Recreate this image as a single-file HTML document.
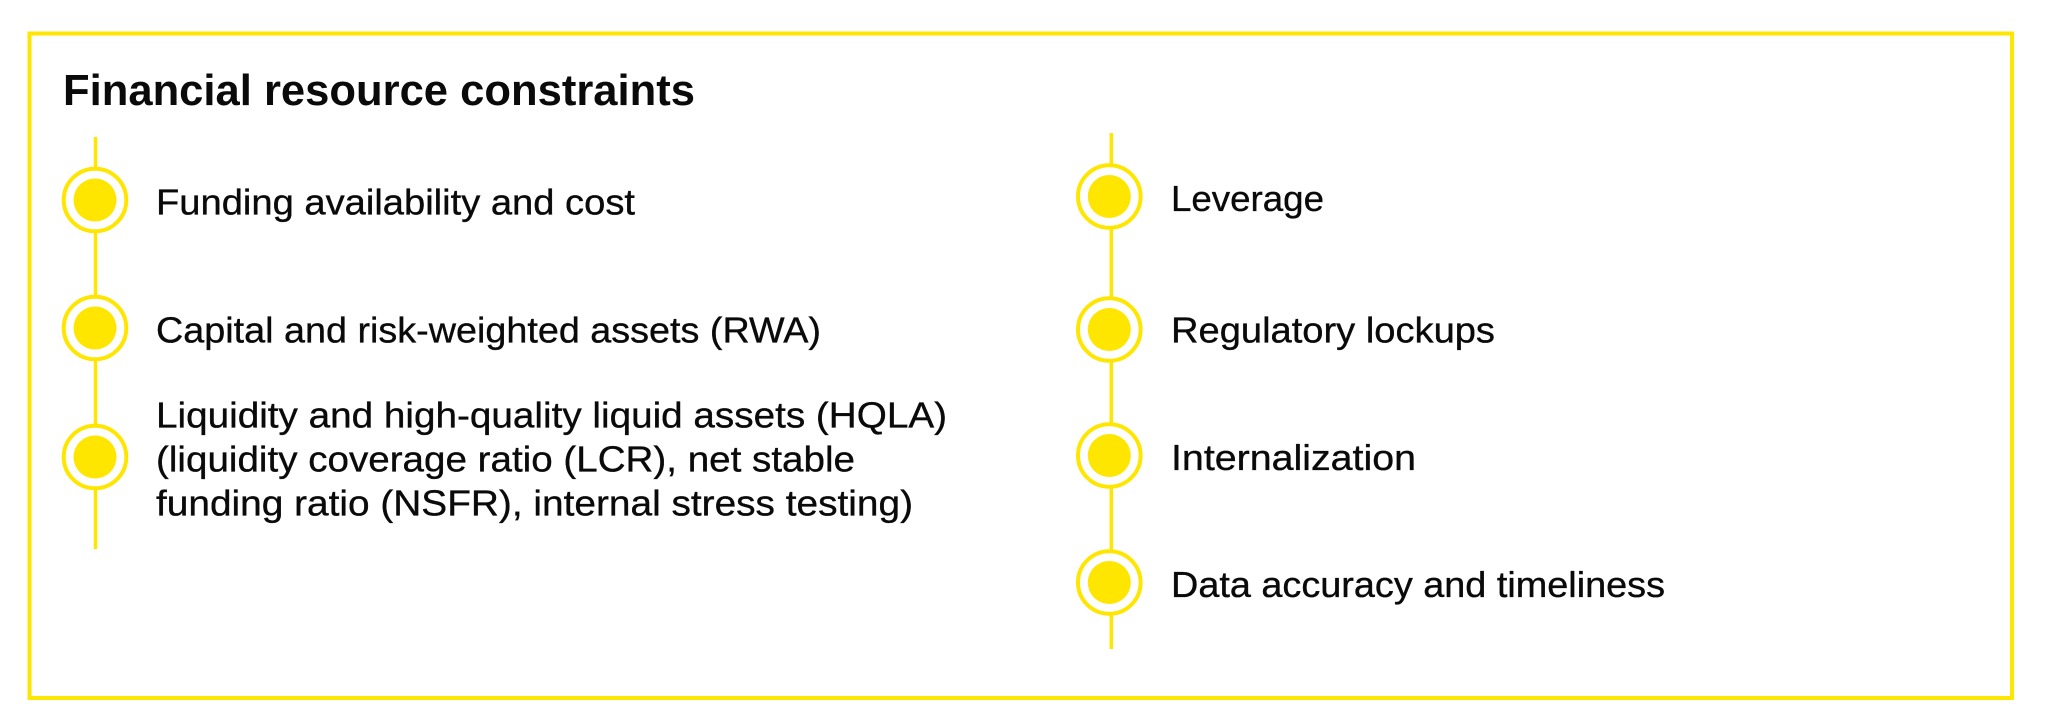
<!DOCTYPE html>
<html>
<head>
<meta charset="utf-8">
<style>
html,body{margin:0;padding:0;background:#fff;width:2048px;height:722px;overflow:hidden}
svg{display:block}
text{font-family:"Liberation Sans",sans-serif;fill:#0a0a0a}
.t{font-size:36px;stroke:#0a0a0a;stroke-width:.35px}
.h{font-size:43.5px;font-weight:bold}
.r{fill:#fff;stroke:#FFE600;stroke-width:4}
.d{fill:#FFE600}
.l{stroke:#FFE600;stroke-width:3.5;fill:none}
</style>
</head>
<body>
<svg width="2048" height="722" viewBox="0 0 2048 722" xmlns="http://www.w3.org/2000/svg">
<rect x="0" y="0" width="2048" height="722" fill="#fff"/>
<rect x="29.5" y="33.5" width="1982.5" height="664.5" fill="none" stroke="#FFE600" stroke-width="4"/>
<text class="h" x="63" y="105" textLength="632" lengthAdjust="spacingAndGlyphs">Financial resource constraints</text>

<line class="l" x1="95.5" y1="137" x2="95.5" y2="549"/>
<g>
<circle cx="95" cy="200" r="31.3" class="r"/><circle cx="95" cy="200" r="21.5" class="d"/>
<circle cx="95" cy="328" r="31.3" class="r"/><circle cx="95" cy="328" r="21.5" class="d"/>
<circle cx="95" cy="457" r="31.3" class="r"/><circle cx="95" cy="457" r="21.5" class="d"/>
</g>
<text class="t" x="156" y="214.5" textLength="479" lengthAdjust="spacingAndGlyphs">Funding availability and cost</text>
<text class="t" x="156" y="342.5" textLength="665" lengthAdjust="spacingAndGlyphs">Capital and risk-weighted assets (RWA)</text>
<text class="t" x="156" y="427.5" textLength="791" lengthAdjust="spacingAndGlyphs">Liquidity and high-quality liquid assets (HQLA)</text>
<text class="t" x="156" y="471.5" textLength="699" lengthAdjust="spacingAndGlyphs">(liquidity coverage ratio (LCR), net stable</text>
<text class="t" x="156" y="515.5" textLength="757" lengthAdjust="spacingAndGlyphs">funding ratio (NSFR), internal stress testing)</text>

<line class="l" x1="1111.3" y1="133" x2="1111.3" y2="649"/>
<g>
<circle cx="1109.3" cy="196.5" r="31.3" class="r"/><circle cx="1109.3" cy="196.5" r="21.5" class="d"/>
<circle cx="1109.3" cy="329.5" r="31.3" class="r"/><circle cx="1109.3" cy="329.5" r="21.5" class="d"/>
<circle cx="1109.3" cy="455.5" r="31.3" class="r"/><circle cx="1109.3" cy="455.5" r="21.5" class="d"/>
<circle cx="1109.3" cy="582.5" r="31.3" class="r"/><circle cx="1109.3" cy="582.5" r="21.5" class="d"/>
</g>
<text class="t" x="1171" y="211" textLength="153" lengthAdjust="spacingAndGlyphs">Leverage</text>
<text class="t" x="1171" y="342.5" textLength="324" lengthAdjust="spacingAndGlyphs">Regulatory lockups</text>
<text class="t" x="1171" y="470" textLength="245" lengthAdjust="spacingAndGlyphs">Internalization</text>
<text class="t" x="1171" y="597" textLength="494" lengthAdjust="spacingAndGlyphs">Data accuracy and timeliness</text>
</svg>
</body>
</html>
